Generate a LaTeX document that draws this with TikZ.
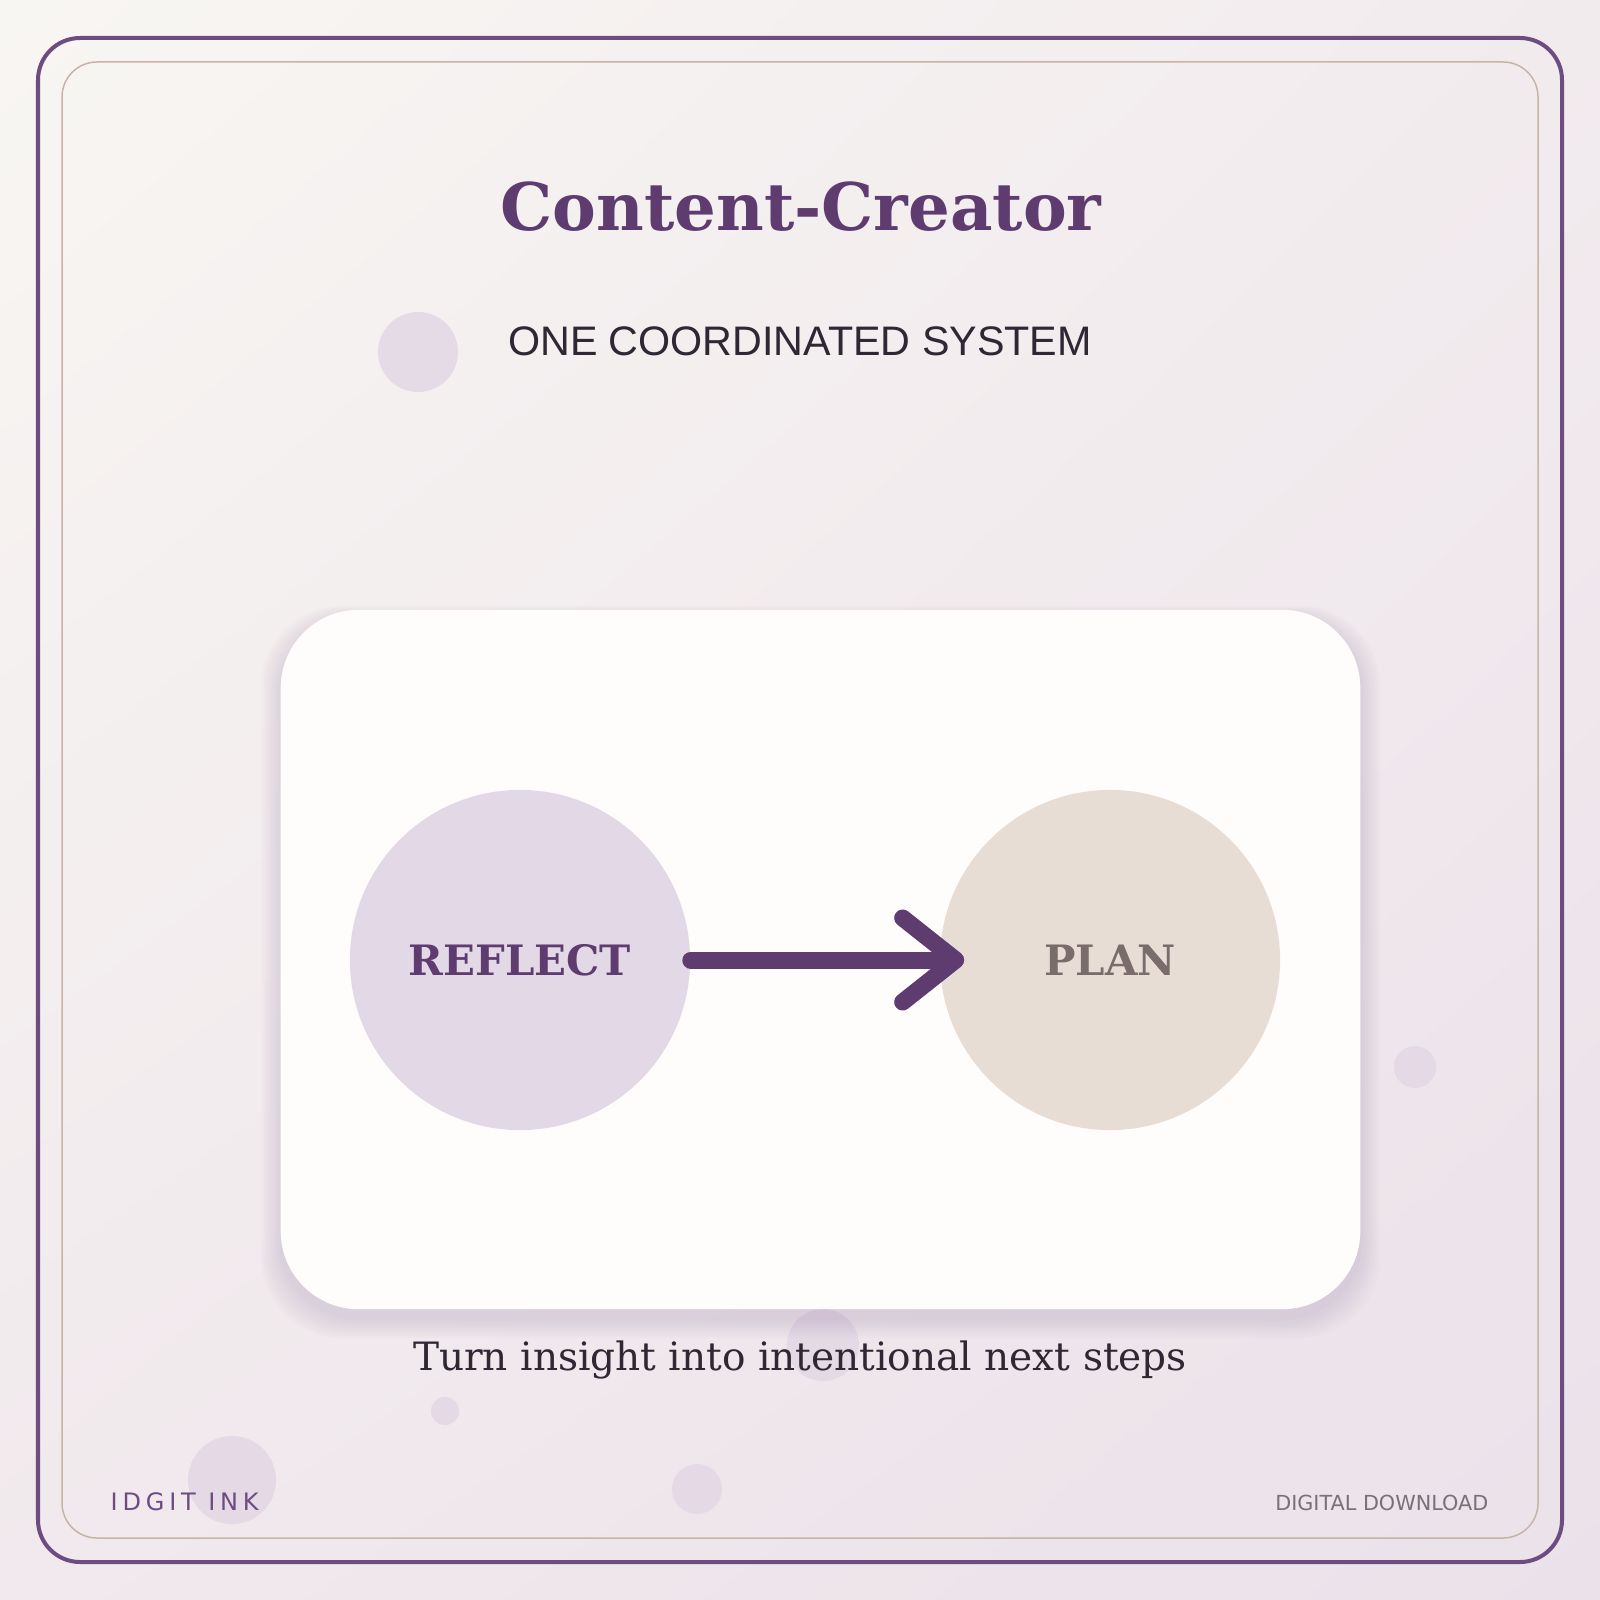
\documentclass[tikz,border=0pt]{standalone}
\usepackage{fontspec}
\usepackage{tikz}
\usetikzlibrary{arrows.meta, positioning, shadings, calc}
\newfontfamily\dvserif{DejaVu Serif}
\newfontfamily\dvsans{DejaVu Sans}
\newfontfamily\libsans{Liberation Sans}
\newfontfamily\spacedsans[LetterSpace=20]{DejaVu Sans}
\definecolor{CP}{RGB}{95,60,112}
\definecolor{FP}{RGB}{110,76,130}
\definecolor{FT}{RGB}{200,180,166}
\definecolor{INK}{RGB}{47,39,51}
\definecolor{PL}{RGB}{122,108,106}
\definecolor{DL}{RGB}{125,111,120}
\definecolor{LV}{RGB}{227,216,230}
\definecolor{SD}{RGB}{232,221,213}
\definecolor{DOT}{RGB}{226,214,228}
\definecolor{SH}{RGB}{150,120,160}
\definecolor{CW}{RGB}{255,253,252}
\definecolor{BgA}{RGB}{248,246,242}
\definecolor{BgB}{RGB}{242,235,238}
\definecolor{BgC}{RGB}{241,233,237}
\definecolor{BgD}{RGB}{235,225,234}

\begin{document}
\begin{tikzpicture}[
  x=0.01cm, y=-0.01cm,
  frame/.style={rounded corners=#1},
  card/.style={fill=CW, rounded corners=0.78cm,
               minimum width=10.79cm, minimum height=6.99cm},
  stage/.style={circle, fill=#1, minimum size=3.4cm, inner sep=0pt,
                font=\dvserif\bfseries\fontsize{11.9pt}{14pt}\selectfont},
  flow/.style={line width=0.17cm, draw=CP, line cap=round,
               -{Straight Barb[length=0.53cm, width=0.84cm,
                 line join=round, line cap=round]}},
  foot/.style={anchor=base, inner sep=0pt}
]
\useasboundingbox (0,0) rectangle (1600,1600);
\shade[upper left=BgA, upper right=BgB, lower left=BgC, lower right=BgD]
  (0,0) rectangle (1600,1600);

% frames
\draw[frame=0.42cm, draw=FP, line width=0.04cm] (38,38) rectangle (1562,1562);
\draw[frame=0.35cm, draw=FT, line width=0.015cm] (62,62) rectangle (1538,1538);

% soft dots
\foreach \cx/\cy/\r in {418/352/40, 1415/1067/21, 823/1345/36,
                        445/1411/14, 232/1480/44, 697/1489/25}
  \fill[DOT, opacity=0.8] (\cx,\cy) circle[radius=\r];

\node[foot, font=\dvserif\bfseries\fontsize{18.67pt}{22pt}\selectfont, text=CP]
  (title) at (801,231) {Content-Creator};
\node[foot, font=\libsans\fontsize{11.73pt}{14pt}\selectfont, text=INK]
  (tagline) at (800,355) {ONE COORDINATED SYSTEM};

% card shadow
\foreach \s in {1,...,8}
  \fill[SH, opacity=0.028, rounded corners=0.8cm]
    (281-\s*2.5,610-\s*1.5+8) rectangle (1360+\s*2.5,1309+\s*2.5+9);
\node[card] (card) at (820.5,959.5) {};
\node[stage=LV, text=CP] (reflect) at (520,960) {REFLECT};
\node[stage=SD, text=PL] (plan) at (1110,960) {PLAN};
\draw[flow] (reflect.east) -- ([xshift=0.25cm]plan.west);

\node[foot, font=\dvserif\fontsize{11.1pt}{14pt}\selectfont, text=INK]
  (caption) at (800,1370) {Turn insight into intentional next steps};

\node[foot, anchor=base west, font=\spacedsans\fontsize{6.83pt}{8pt}\selectfont, text=FP]
  (brand) at (110,1510) {IDGIT INK};
\node[foot, anchor=base east, font=\dvsans\fontsize{5.9pt}{7pt}\selectfont, text=DL]
  (download) at (1489,1510) {DIGITAL DOWNLOAD};
\end{tikzpicture}
\end{document}
